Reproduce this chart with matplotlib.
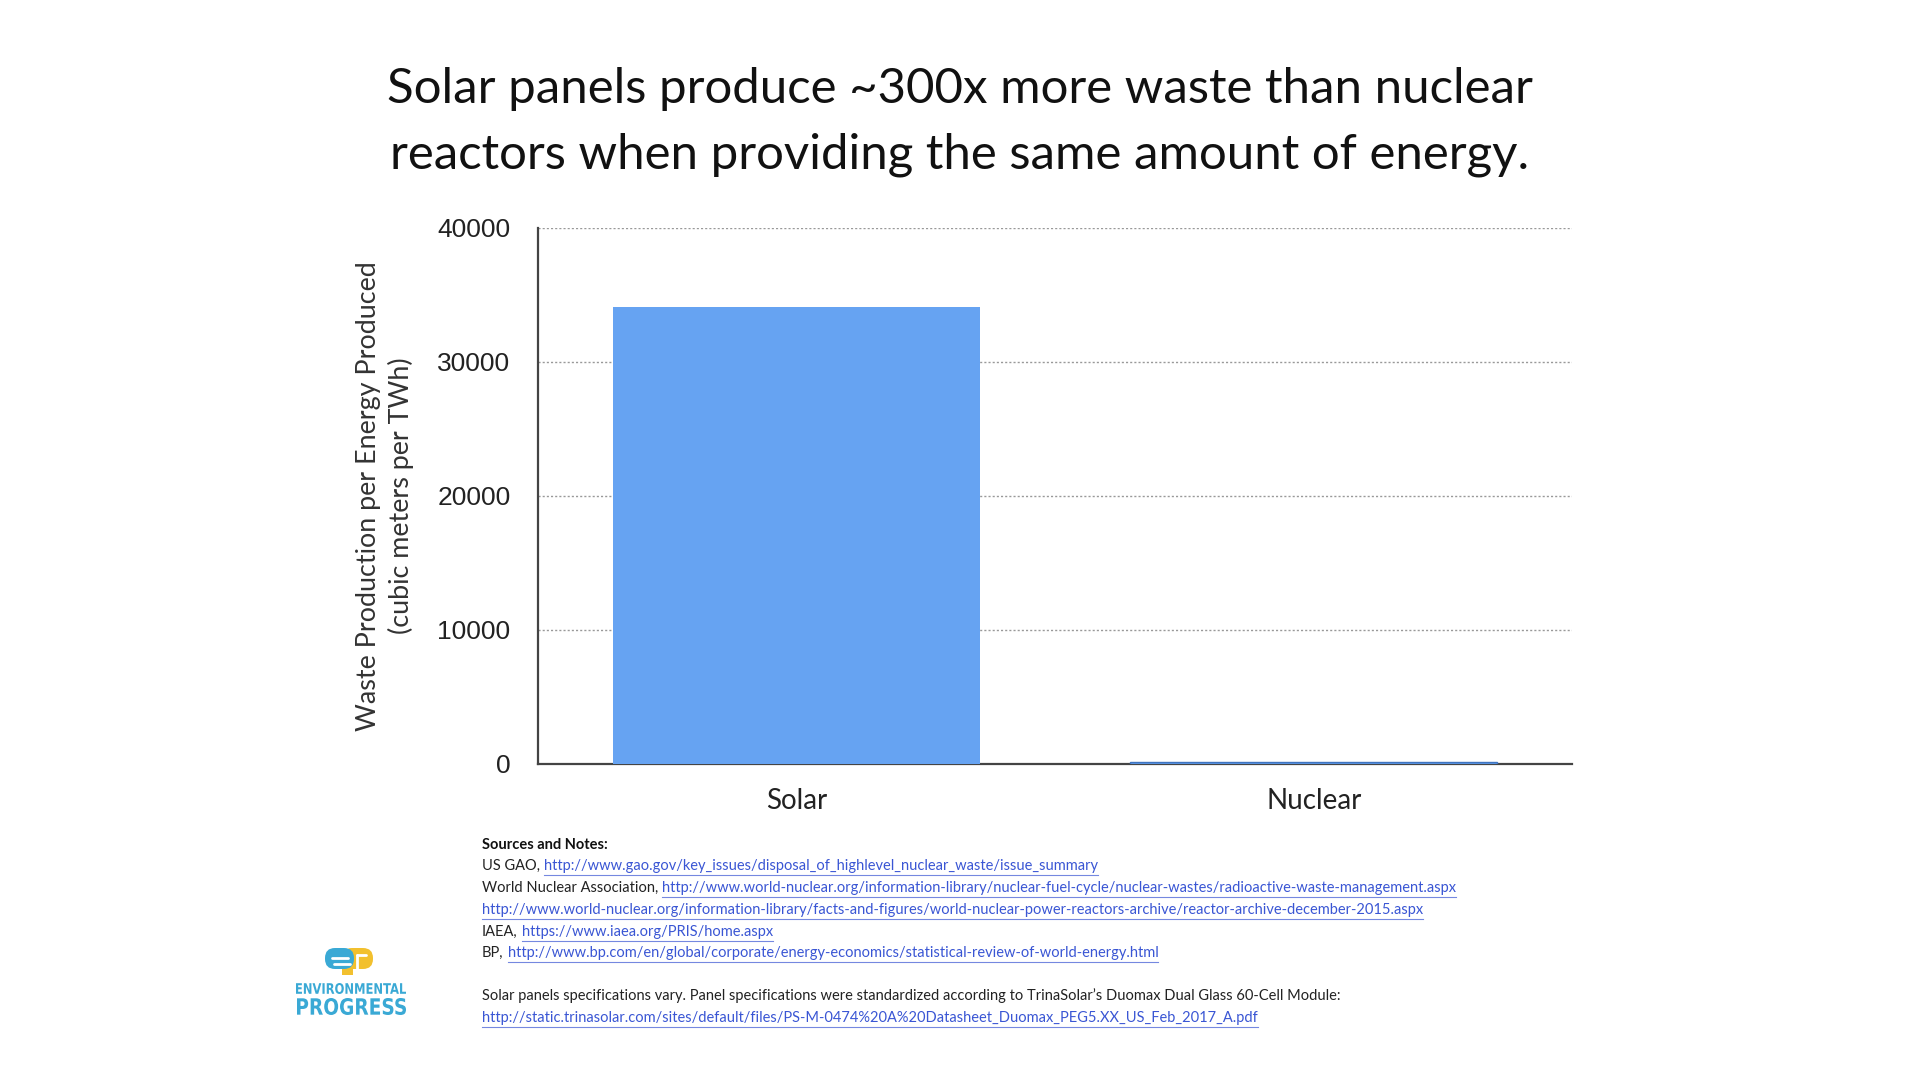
import matplotlib
matplotlib.use('Agg')
import matplotlib.pyplot as plt
from matplotlib.lines import Line2D
from matplotlib.patches import FancyBboxPatch, PathPatch, Rectangle
from matplotlib.textpath import TextPath
from matplotlib.font_manager import FontProperties
from matplotlib.transforms import Affine2D

# ---------------- data ----------------
categories = ['Solar', 'Nuclear']
waste_values = [34100, 113]
y_ticks = [0, 10000, 20000, 30000, 40000]
y_tick_labels = ['0', '10000', '20000', '30000', '40000']

title_text = ("Solar panels produce ~300x more waste than nuclear\n"
              "reactors when providing the same amount of energy.")
ylabel_text = "Waste Production per Energy Produced\n(cubic meters per TWh)"

source_heading = "Sources and Notes:"
source_prefixes = ["US GAO,", "World Nuclear Association,", "", "IAEA,", "BP,"]
source_links = [
    "http://www.gao.gov/key_issues/disposal_of_highlevel_nuclear_waste/issue_summary",
    "http://www.world-nuclear.org/information-library/nuclear-fuel-cycle/nuclear-wastes/radioactive-waste-management.aspx",
    "http://www.world-nuclear.org/information-library/facts-and-figures/world-nuclear-power-reactors-archive/reactor-archive-december-2015.aspx",
    "https://www.iaea.org/PRIS/home.aspx",
    "http://www.bp.com/en/global/corporate/energy-economics/statistical-review-of-world-energy.html",
]
note_text = ("Solar panels specifications vary. Panel specifications were standardized "
             "according to TrinaSolar\u2019s Duomax Dual Glass 60-Cell Module:")
note_link = "http://static.trinasolar.com/sites/default/files/PS-M-0474%20A%20Datasheet_Duomax_PEG5.XX_US_Feb_2017_A.pdf"
logo_words = ["ENVIRONMENTAL", "PROGRESS"]

BAR_COLOR = '#66a3f2'
LINK_COLOR = '#3a56d4'
TEXT_FONT = ['Lato', 'DejaVu Sans']
NUM_FONT = ['Liberation Sans', 'DejaVu Sans']

fig = plt.figure(figsize=(19.2, 10.8), dpi=100)
fig.patch.set_facecolor('white')

ax = fig.add_axes([0.280, 0.2926, 0.539, 0.4964])
ax.bar(range(len(categories)), waste_values, width=0.71, color=BAR_COLOR,
       edgecolor=[BAR_COLOR, '#3f74c0'], linewidth=[0, 1.0], zorder=3)
ax.set_xlim(-0.5, 1.5)
ax.set_ylim(0, 40000)
ax.set_yticks(y_ticks)
ax.set_yticklabels(y_tick_labels, fontsize=19, family=NUM_FONT, color='#222222')
ax.set_xticks(range(len(categories)))
ax.set_xticklabels(categories, fontsize=20, family=TEXT_FONT, color='#222222')
ax.tick_params(axis='both', length=0)
ax.tick_params(axis='y', pad=19.5)
ax.tick_params(axis='x', pad=17.5)
for s in ['top', 'right']:
    ax.spines[s].set_visible(False)
for s in ['left', 'bottom']:
    ax.spines[s].set_color('#444444')
    ax.spines[s].set_linewidth(1.6)
ax.yaxis.grid(True, linestyle=(0, (1.5, 1.5)), color='#999999', linewidth=1.0, zorder=0)
ax.set_axisbelow(True)

# title
fig.text(0.5, 0.887, title_text, ha='center', va='center', fontsize=35.4,
         family=TEXT_FONT, color='#111111', linespacing=1.6)

# y label
fig.text(0.2005, 0.541, ylabel_text, ha='center', va='center', rotation=90,
         fontsize=19.4, family=TEXT_FONT, color='#333333', linespacing=1.35)

# sources block
x0 = 482 / 1920
line_y_px = [845, 866, 888, 910, 932, 953]
fs_src = 10.5
fig.text(x0, 1 - line_y_px[0] / 1080, source_heading, ha='left', va='center',
         fontsize=fs_src, family=TEXT_FONT, fontweight='bold', color='#111111')

renderer = fig.canvas.get_renderer()
inv = fig.transFigure.inverted()

def add_link(x_fig, y_fig, text):
    t = fig.text(x_fig, y_fig, text, ha='left', va='center', fontsize=fs_src,
                 family=TEXT_FONT, color=LINK_COLOR)
    bb = t.get_window_extent(renderer=renderer)
    (xa, ya), (xb, yb) = inv.transform([(bb.x0, bb.y0 - 1.5), (bb.x1, bb.y0 - 1.5)])
    fig.add_artist(Line2D([xa, xb], [ya, yb], transform=fig.transFigure,
                          color=LINK_COLOR, linewidth=0.8, alpha=0.7))
    return t

for i, (pre, link) in enumerate(zip(source_prefixes, source_links)):
    y = 1 - line_y_px[i + 1] / 1080
    xl = x0
    if pre:
        t = fig.text(x0, y, pre, ha='left', va='center', fontsize=fs_src,
                     family=TEXT_FONT, color='#222222')
        bb = t.get_window_extent(renderer=renderer)
        xl = inv.transform((bb.x1 + 4, bb.y0))[0]
    add_link(xl, y, link)

fig.text(x0, 1 - 996 / 1080, note_text, ha='left', va='center', fontsize=fs_src,
         family=TEXT_FONT, color='#222222')
add_link(x0, 1 - 1018 / 1080, note_link)

# logo (axes units == pixels)
LOGO_BLUE = '#3aa9d5'
LOGO_YELLOW = '#f2c02e'
lax = fig.add_axes([295 / 1920, 1 - 1025 / 1080, 115 / 1920, 85 / 1080])
lax.set_xlim(0, 115)
lax.set_ylim(0, 85)
lax.axis('off')
lax.add_patch(FancyBboxPatch((47, 56), 31, 21, boxstyle='round,pad=0,rounding_size=10',
                             fc=LOGO_YELLOW, ec='none'))
lax.add_patch(Rectangle((47, 50), 11, 14, fc=LOGO_YELLOW, ec='none'))
lax.add_patch(FancyBboxPatch((30, 56), 29, 21, boxstyle='round,pad=0,rounding_size=10',
                             fc=LOGO_BLUE, ec='none'))
lax.plot([37, 53], [67, 67], color='white', lw=2.0, solid_capstyle='round')
lax.plot([39, 55], [61.5, 61.5], color='white', lw=2.0, solid_capstyle='round')
lax.plot([62, 62], [53, 70], color='white', lw=2.0, solid_capstyle='round')
lax.plot([62, 71], [70, 70], color='white', lw=2.0, solid_capstyle='round')

fp = FontProperties(family='DejaVu Sans', weight='bold')

def stretched_text(s, x0_, x1_, y0_, y1_):
    tp = TextPath((0, 0), s, size=10, prop=fp)
    ext = tp.get_extents()
    sx = (x1_ - x0_) / ext.width
    sy = (y1_ - y0_) / ext.height
    tr = Affine2D().translate(-ext.x0, -ext.y0).scale(sx, sy).translate(x0_, y0_)
    lax.add_patch(PathPatch(tr.transform_path(tp), fc=LOGO_BLUE, ec='none', lw=0))

stretched_text(logo_words[0], 1, 111, 31, 42)
stretched_text(logo_words[1], 2, 111, 10, 27)

fig.savefig('out.png', dpi=100, facecolor='white')
